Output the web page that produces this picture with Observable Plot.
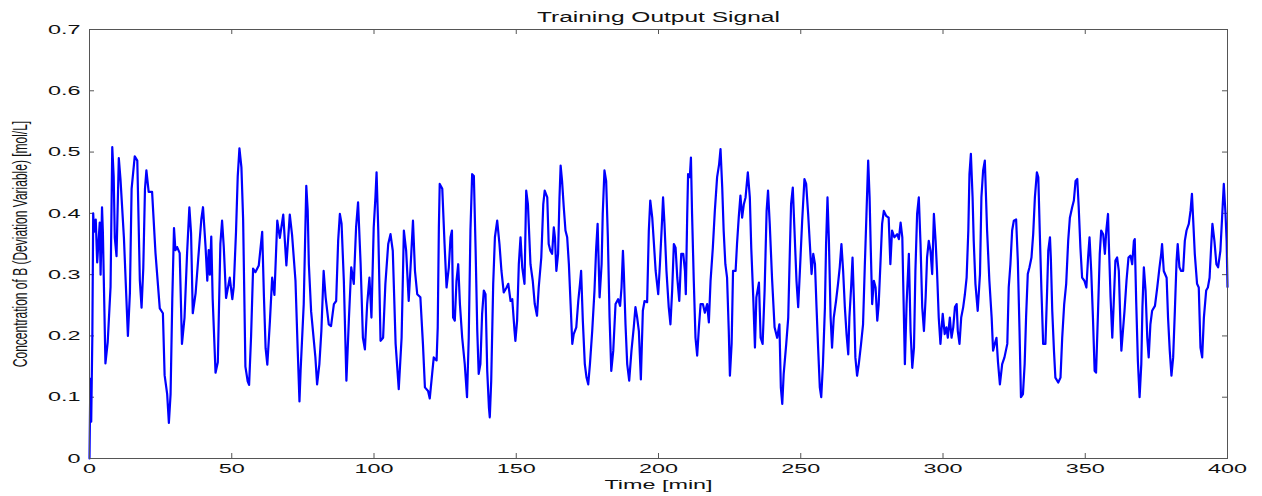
<!DOCTYPE html>
<html><head><meta charset="utf-8">
<script src="https://cdn.jsdelivr.net/npm/d3@7"></script>
<script src="https://cdn.jsdelivr.net/npm/@observablehq/plot@0.6"></script>
<style>
body{margin:0;background:#fff;}
#title{width:1262px;height:16px;box-sizing:border-box;padding:10px 35px 0 89px;text-align:center;font-family:"Liberation Sans",Arial,sans-serif;font-size:14px;line-height:14px;color:#111;overflow:visible;white-space:nowrap;}
#title span{display:inline-block;transform:scaleX(1.75);}
svg{display:block}
</style></head><body>
<div id="title"><span>Training Output Signal</span></div>
<div id="chart"></div>
<script>
const chartTitle = "Training Output Signal";
const xLabel = "Time [min]";
const yLabel = "Concentration of B (Deviation Variable) [mol/L]";
const xTicks = [0, 50, 100, 150, 200, 250, 300, 350, 400];
const yTicks = [0, 0.1, 0.2, 0.3, 0.4, 0.5, 0.6, 0.7];

// [time (min), concentration], segment by segment
const seg0 = [[0,0],[0.3,0.13],[0.6,0.06],[1.0,0.2],[1.3,0.40],[1.6,0.37],[2.2,0.39],[2.7,0.32],[3.6,0.385],[3.9,0.30],[4.4,0.41],[4.7,0.37],[5.6,0.155],[6.4,0.19],[7.4,0.28],[8.0,0.508],[8.5,0.46],[8.9,0.36],[9.5,0.33],[10.3,0.49],[10.9,0.455],[12.1,0.36],[13.5,0.2],[14.2,0.27],[14.8,0.44],[15.9,0.493],[16.8,0.486],[17.7,0.29],[18.3,0.246],[18.9,0.31],[19.5,0.44],[20.0,0.47],[20.8,0.435],[22.0,0.435],[23.2,0.335],[24.7,0.245],[25.8,0.237],[26.4,0.136],[27.3,0.105],[27.9,0.058],[28.5,0.105],[29.1,0.26],[29.7,0.376],[30.2,0.34],[30.8,0.345],[31.7,0.335],[32.5,0.187],[33.4,0.23],[34.3,0.335],[35.1,0.41],[35.7,0.368],[36.3,0.237],[37.3,0.27],[38.2,0.325],[39.3,0.39]];
const seg1 = [[39.9,0.41],[40.8,0.345],[41.4,0.29],[41.9,0.34],[42.3,0.30],[42.8,0.362],[43.3,0.26],[44.3,0.14],[45.1,0.157],[46.0,0.35],[46.6,0.388],[47.2,0.345],[48.0,0.262],[49.3,0.295],[50.2,0.26],[50.7,0.28],[51.5,0.37],[52.1,0.46],[52.7,0.506],[53.4,0.475],[54.0,0.39],[54.8,0.15],[55.6,0.126],[56.1,0.12],[56.8,0.2],[57.5,0.31],[58.3,0.304],[59.5,0.315],[60.7,0.37],[61.3,0.266],[61.9,0.18],[62.5,0.153],[63.4,0.223],[64.2,0.295],[65.0,0.267],[66.0,0.388],[66.9,0.36],[68.1,0.398],[69.2,0.315],[70.4,0.398],[71.2,0.365],[72.4,0.29],[73.2,0.175],[73.8,0.093],[74.2,0.143],[75.3,0.252],[76.2,0.445],[76.7,0.404],[77.1,0.317],[77.9,0.24],[79.4,0.165]];
const seg2 = [[80.0,0.121],[80.8,0.154],[81.5,0.208],[82.3,0.306],[83.0,0.263],[84.1,0.219],[84.9,0.216],[85.9,0.252],[86.7,0.257],[87.4,0.355],[88.0,0.399],[88.6,0.383],[89.4,0.29],[90.3,0.127],[91.2,0.23],[92.0,0.312],[92.9,0.285],[93.7,0.377],[94.4,0.418],[95.3,0.317],[96.1,0.197],[96.8,0.178],[97.6,0.252],[98.4,0.295],[99.1,0.23],[99.9,0.377],[100.5,0.426],[100.9,0.467],[101.5,0.372],[102.3,0.192],[103.2,0.197],[104.0,0.285],[105.0,0.35],[105.8,0.366],[106.6,0.339],[107.6,0.187],[108.7,0.113],[109.7,0.197],[110.5,0.372],[111.3,0.339],[112.2,0.257],[113.1,0.334],[113.7,0.388],[114.4,0.306],[115.2,0.268],[116.3,0.263],[117.2,0.187],[117.9,0.116],[119.0,0.11],[119.6,0.098]];
const seg3 = [[121.0,0.165],[122.0,0.16],[122.4,0.214],[122.8,0.377],[123.1,0.448],[124.0,0.44],[124.8,0.35],[125.5,0.279],[126.3,0.312],[126.9,0.361],[127.4,0.372],[127.8,0.23],[128.4,0.225],[129.0,0.29],[129.6,0.317],[130.2,0.252],[131.0,0.197],[131.9,0.154],[132.7,0.1],[133.3,0.197],[133.9,0.372],[134.5,0.464],[135.1,0.461],[135.7,0.344],[136.3,0.208],[136.8,0.138],[137.4,0.154],[138.0,0.236],[138.6,0.274],[139.2,0.268],[139.8,0.143],[140.4,0.083],[140.7,0.067],[141.2,0.127],[141.9,0.285],[142.5,0.361],[143.3,0.388],[144.1,0.35],[144.8,0.306],[145.6,0.271],[146.6,0.279],[147.2,0.285],[148.0,0.257],[148.6,0.26],[149.4,0.208],[149.7,0.192],[150.3,0.225],[150.9,0.317],[151.5,0.361],[152.1,0.312],[152.9,0.285],[153.5,0.437],[154.1,0.415],[155.0,0.317],[155.8,0.29],[156.5,0.252],[157.3,0.233],[157.9,0.279],[158.8,0.328],[159.5,0.415],[160.0,0.437]];
const seg4 = [[160.9,0.426],[161.4,0.35],[162.0,0.339],[162.6,0.334],[163.2,0.377],[163.6,0.361],[164.1,0.306],[164.7,0.334],[165.2,0.426],[165.6,0.478],[166.1,0.453],[166.7,0.41],[167.3,0.372],[167.9,0.361],[168.5,0.317],[169.1,0.252],[169.7,0.187],[170.2,0.203],[171.1,0.214],[171.8,0.257],[172.4,0.285],[172.8,0.306],[173.4,0.225],[174.1,0.154],[174.7,0.132],[175.3,0.121],[175.9,0.154],[176.7,0.208],[177.5,0.274],[178.1,0.344],[178.6,0.383],[179.3,0.263],[180.0,0.317],[180.4,0.399],[181.0,0.47],[181.6,0.453],[182.2,0.361],[182.8,0.23],[183.4,0.143],[184.1,0.176],[184.9,0.252],[185.8,0.26],[186.5,0.249],[187.0,0.279],[187.5,0.339],[187.8,0.306],[188.4,0.219],[189.0,0.154],[189.7,0.127],[190.5,0.176],[191.3,0.214],[191.9,0.247],[192.5,0.23],[193.1,0.208],[193.8,0.129],[194.5,0.241],[195.1,0.257],[196.0,0.255],[196.6,0.372],[197.1,0.421],[197.8,0.393],[198.4,0.35],[199.0,0.306],[199.9,0.268],[200.5,0.317]];
const seg5 = [[201.3,0.393],[201.6,0.426],[202.1,0.383],[202.8,0.306],[203.6,0.247],[204.2,0.219],[204.8,0.274],[205.4,0.35],[206.0,0.344],[206.6,0.295],[207.3,0.257],[208.0,0.334],[208.7,0.334],[209.3,0.306],[209.6,0.268],[210.1,0.399],[210.4,0.464],[211.0,0.459],[211.4,0.491],[211.8,0.399],[212.4,0.29],[213.0,0.197],[213.6,0.168],[214.2,0.214],[214.8,0.252],[215.6,0.252],[216.3,0.238],[217.1,0.252],[217.7,0.222],[218.3,0.29],[219.1,0.344],[219.8,0.404],[220.6,0.459],[221.3,0.48],[221.8,0.505],[222.4,0.442],[222.9,0.372],[223.5,0.317],[224.1,0.295],[224.7,0.208],[225.1,0.135],[225.7,0.187],[226.2,0.306],[227.1,0.306],[227.6,0.35],[228.2,0.393],[228.8,0.429],[229.4,0.393],[230.0,0.415],[230.6,0.426],[231.4,0.467],[232.1,0.426],[232.6,0.344],[233.3,0.263],[233.9,0.181],[234.4,0.263],[235.3,0.287],[235.9,0.197],[236.6,0.187],[237.3,0.274],[238.0,0.404],[238.5,0.437],[239.1,0.383],[239.9,0.295],[240.8,0.214]];
const seg6 = [[241.7,0.197],[242.5,0.219],[243.0,0.116],[243.5,0.089],[244.0,0.138],[244.9,0.187],[245.6,0.23],[246.2,0.344],[246.6,0.415],[247.2,0.442],[247.8,0.372],[248.5,0.29],[249.1,0.247],[249.7,0.306],[250.5,0.388],[251.3,0.456],[251.9,0.448],[252.6,0.399],[253.2,0.35],[253.8,0.301],[254.4,0.334],[255.0,0.317],[255.5,0.252],[256.1,0.181],[256.7,0.116],[257.2,0.1],[257.8,0.154],[258.5,0.247],[258.9,0.35],[259.4,0.426],[259.9,0.355],[260.5,0.23],[261.0,0.181],[261.6,0.23],[262.4,0.257],[263.1,0.285],[263.7,0.312],[264.3,0.35],[264.9,0.306],[265.5,0.247],[266.1,0.203],[266.7,0.17],[267.1,0.23],[267.7,0.279],[268.2,0.328],[268.7,0.257],[269.2,0.165],[269.8,0.135],[270.4,0.154],[271.2,0.187],[271.9,0.219],[272.5,0.312],[273.1,0.399],[273.7,0.486],[274.2,0.426],[274.6,0.344],[275.1,0.252],[275.7,0.29],[276.3,0.279],[276.9,0.225],[277.4,0.252],[278.0,0.317],[278.6,0.383],[279.2,0.404],[280.0,0.396],[280.9,0.393],[281.5,0.317]];
const seg7 = [[282.1,0.372],[282.9,0.361],[283.9,0.366],[284.5,0.358],[285.1,0.385],[285.7,0.361],[286.0,0.29],[286.6,0.154],[287.2,0.252],[288.0,0.334],[288.6,0.208],[289.2,0.148],[289.8,0.181],[290.3,0.306],[290.9,0.399],[291.5,0.426],[292.1,0.35],[292.7,0.247],[293.3,0.208],[293.9,0.263],[294.4,0.328],[295.0,0.355],[295.6,0.339],[296.2,0.301],[296.8,0.399],[297.4,0.355],[297.9,0.306],[298.5,0.23],[299.1,0.187],[299.9,0.236],[300.6,0.203],[301.2,0.214],[301.7,0.197],[302.4,0.23],[303.0,0.197],[303.6,0.214],[304.2,0.247],[304.8,0.252],[305.2,0.208],[305.8,0.187],[306.4,0.23],[307.1,0.247],[307.7,0.268],[308.3,0.295],[308.9,0.372],[309.3,0.464],[309.8,0.497],[310.4,0.426],[310.8,0.355],[311.4,0.285],[312.2,0.241],[313.0,0.301],[313.5,0.426],[314.1,0.47],[314.7,0.486],[315.5,0.372],[316.3,0.29],[317.1,0.23],[317.6,0.176],[318.2,0.187],[318.8,0.197],[319.3,0.159],[320.0,0.121],[320.8,0.154],[321.6,0.165]];
const seg8 = [[322.6,0.187],[323.1,0.279],[323.7,0.317],[324.3,0.372],[324.9,0.388],[325.7,0.39],[326.3,0.323],[326.9,0.208],[327.4,0.1],[328.1,0.105],[328.7,0.154],[329.2,0.23],[329.8,0.301],[330.4,0.312],[331.1,0.328],[331.7,0.366],[332.3,0.426],[333.0,0.467],[333.5,0.459],[334.0,0.372],[334.6,0.274],[335.2,0.187],[336.0,0.187],[336.6,0.274],[337.0,0.339],[337.6,0.361],[337.9,0.328],[338.4,0.241],[339.0,0.176],[339.5,0.132],[340.5,0.124],[341.3,0.132],[341.9,0.197],[342.6,0.252],[343.3,0.285],[344.0,0.355],[344.6,0.393],[345.4,0.41],[346.0,0.421],[346.6,0.453],[347.2,0.456],[347.7,0.41],[348.3,0.344],[348.9,0.295],[349.7,0.29],[350.4,0.279],[351.0,0.328],[351.5,0.361],[352.1,0.306],[352.7,0.23],[353.3,0.143],[353.8,0.14],[354.5,0.241],[355.1,0.334],[355.6,0.372],[356.3,0.366],[356.9,0.334],[357.4,0.372],[358.0,0.399],[358.3,0.35],[358.9,0.263],[359.5,0.197],[360.0,0.252],[360.6,0.323],[361.2,0.328],[361.8,0.306],[362.4,0.214],[362.7,0.176]];
const seg9 = [[363.8,0.241],[364.5,0.29],[365.2,0.328],[365.9,0.331],[366.5,0.317],[367.1,0.355],[367.4,0.358],[367.9,0.257],[368.5,0.159],[369.1,0.1],[369.7,0.154],[370.1,0.247],[370.6,0.312],[371.2,0.274],[371.8,0.197],[372.3,0.165],[372.9,0.219],[373.5,0.241],[374.5,0.249],[375.3,0.279],[376.1,0.312],[376.7,0.334],[377.0,0.35],[377.6,0.306],[378.6,0.295],[379.1,0.23],[379.7,0.176],[380.3,0.135],[380.9,0.165],[381.5,0.241],[382.1,0.323],[382.5,0.35],[383.1,0.312],[383.7,0.306],[384.4,0.306],[385.0,0.355],[385.6,0.372],[386.4,0.383],[387.0,0.404],[387.5,0.432],[387.9,0.393],[388.5,0.334],[389.3,0.285],[389.9,0.279],[390.5,0.181],[391.1,0.165],[391.7,0.23],[392.5,0.274],[393.1,0.279],[393.7,0.295],[394.3,0.35],[394.7,0.383],[395.4,0.355],[396.1,0.317],[396.7,0.312],[397.5,0.339],[398.1,0.393],[398.7,0.448],[399.3,0.399],[399.7,0.355],[400.0,0.28]];

const data = [seg0, seg1, seg2, seg3, seg4, seg5, seg6, seg7, seg8, seg9].flat().map(([t, c]) => ({t, c}));

const W = 1262, H = 480, mT = 13, mB = 38, mL = 89, mR = 35;
const innerW = W - mL - mR, innerH = H - mT - mB;
const axisColor = "#555";

const plot = Plot.plot({
  width: W, height: H,
  marginTop: mT, marginBottom: mB, marginLeft: mL, marginRight: mR,
  style: {fontFamily: "'Liberation Sans', Arial, sans-serif", fontSize: "13px", color: "#111", background: "#fff", overflow: "visible"},
  x: {domain: [0, 400]},
  y: {domain: [0, 0.7]},
  marks: [
    Plot.tickX(xTicks, {x: d => d, insetTop: innerH - 5, stroke: axisColor}),
    Plot.tickX(xTicks, {x: d => d, insetBottom: innerH - 5, stroke: axisColor}),
    Plot.tickY(yTicks, {y: d => d, insetRight: innerW - 5, stroke: axisColor}),
    Plot.tickY(yTicks, {y: d => d, insetLeft: innerW - 5, stroke: axisColor}),
    Plot.line(data, {x: "t", y: "c", stroke: "#0000ff", strokeWidth: 2.2}),
    Plot.frame({stroke: axisColor}),
    Plot.axisX({ticks: xTicks, tickSize: 0, tickPadding: 5, tickFormat: d => String(d),
      label: xLabel, labelAnchor: "center", labelOffset: 30, labelArrow: "none"}),
    Plot.axisY({ticks: yTicks, tickSize: 0, tickPadding: 9, tickFormat: d => d === 0 ? "0" : d.toFixed(1),
      label: yLabel, labelAnchor: "center", labelOffset: 77, labelArrow: "none"})
  ]
});

function stretch(selector, sx, sy, fontSize) {
  plot.querySelectorAll(selector).forEach(t => {
    const tr = t.getAttribute("transform") || "";
    const x = t.getAttribute("x");
    let extra = "";
    if (x != null) { extra = ` translate(${parseFloat(x)},0)`; t.removeAttribute("x"); }
    t.setAttribute("transform", `${tr}${extra} scale(${sx},${sy})`);
    if (fontSize) t.setAttribute("font-size", fontSize);
  });
}
stretch('g[aria-label="x-axis tick label"] text', 1.8, 1);
stretch('g[aria-label="y-axis tick label"] text', 1.8, 1);
stretch('g[aria-label="x-axis label"] text', 1.8, 1);
stretch('g[aria-label="y-axis label"] text', 1, 1.65, 12);

document.getElementById("chart").appendChild(plot);
</script>
</body></html>
